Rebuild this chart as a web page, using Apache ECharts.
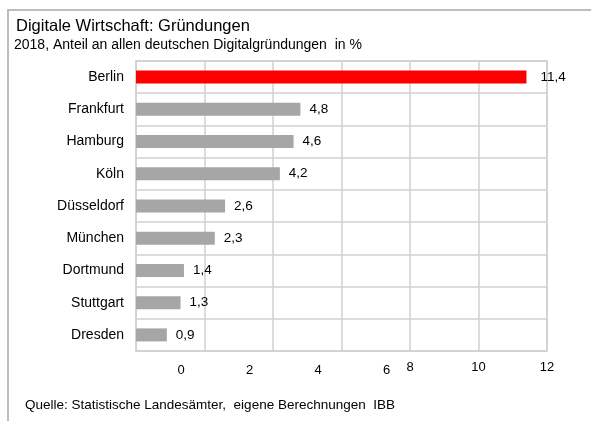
<!DOCTYPE html>
<html>
<head>
<meta charset="utf-8">
<script src="https://cdn.jsdelivr.net/npm/echarts@6/dist/echarts.min.js"></script>
<style>
  html, body { margin: 0; padding: 0; background: #fff; }
  #chart { width: 591px; height: 421px; }
</style>
</head>
<body>
<div id="chart"></div>
<script>
var cities = ['Berlin', 'Frankfurt', 'Hamburg', 'Köln', 'Düsseldorf', 'München', 'Dortmund', 'Stuttgart', 'Dresden'];
var shares = [11.4, 4.8, 4.6, 4.2, 2.6, 2.3, 1.4, 1.3, 0.9];
var xTicks = [0, 2, 4, 6, 8, 10, 12];

var chart = echarts.init(document.getElementById('chart'));

var option = {
    animation: false,
    textStyle: { fontFamily: 'Liberation Sans' },
    graphic: [
        // outer frame (runs off the right and bottom edge)
        { type: 'rect', shape: { x: 8, y: 10, width: 700, height: 500 },
          style: { fill: 'none', stroke: '#bdbdbd', lineWidth: 2 } },
        { type: 'text', left: 16, top: 18,
          style: { text: 'Digitale Wirtschaft: Gründungen', font: '16.5px "Liberation Sans"', fill: '#000' } },
        { type: 'text', left: 14, top: 38,
          style: { text: '2018, Anteil an allen deutschen Digitalgründungen  in %', font: '14px "Liberation Sans"', fill: '#000' } },
        { type: 'text', left: 25, top: 398,
          style: { text: 'Quelle: Statistische Landesämter,  eigene Berechnungen  IBB', font: '13.5px "Liberation Sans"', fill: '#000' } }
    ],
    grid: {
        left: 136, right: 44, top: 61, bottom: 70,
        show: true, borderColor: '#d0d0d0', borderWidth: 1.5
    },
    xAxis: {
        type: 'value',
        min: xTicks[0],
        max: xTicks[xTicks.length - 1],
        interval: 2,
        axisLine: { show: false },
        axisTick: { show: false },
        splitLine: { lineStyle: { color: '#d0d0d0', width: 1.5 } },
        axisLabel: {
            margin: 10,
            formatter: function (v) {
                return v <= 6 ? '{a|' + v + '}' : '{b|' + v + '}';
            },
            rich: {
                a: { fontSize: 13, color: '#000', padding: [3, 0, 0, 90] },
                b: { fontSize: 13, color: '#000' }
            }
        }
    },
    yAxis: {
        type: 'category',
        inverse: true,
        data: cities,
        axisLine: { show: false },
        axisTick: { show: false },
        splitLine: { show: true, lineStyle: { color: '#d0d0d0', width: 1.5 } },
        axisLabel: { margin: 12, fontSize: 14, color: '#000' }
    },
    series: [{
        type: 'bar',
        barWidth: 13,
        data: shares.map(function (v, i) {
            return {
                value: v,
                itemStyle: { color: i === 0 ? '#ff0000' : '#a6a6a6' },
                label: { distance: i === 0 ? 14 : 9 }
            };
        }),
        label: {
            show: true,
            position: 'right',
            fontSize: 13.5,
            color: '#000',
            formatter: function (p) { return String(p.value).replace('.', ','); }
        }
    }]
};

chart.setOption(option);
</script>
</body>
</html>
